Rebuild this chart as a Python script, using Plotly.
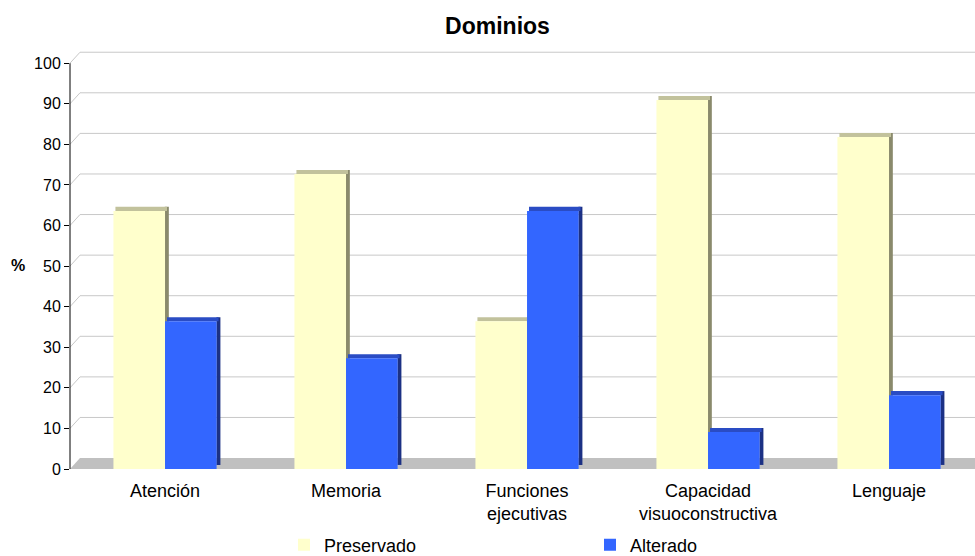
import plotly.graph_objects as go

categories = ["Atención", "Memoria", "Funciones<br>ejecutivas", "Capacidad<br>visuoconstructiva", "Lenguaje"]
preservado = [63.6, 72.7, 36.4, 90.9, 81.8]
alterado = [36.4, 27.3, 63.6, 9.1, 18.2]
y_ticks = [0, 10, 20, 30, 40, 50, 60, 70, 80, 90, 100]

series = [
    ("Preservado", preservado, "#ffffcc", "#c2c29c", "#8a8a6c", -0.285),
    ("Alterado", alterado, "#3366ff", "#2a4cc4", "#1c3184", 0.0),
]

W = 0.285      # bar width (category units)
DX = 0.022     # depth offset x (category units)
DY = 1.0       # depth offset y (data units)
xs = list(range(len(categories)))

fig = go.Figure()
for name, vals, front, top, side, off in series:
    fig.add_trace(go.Bar(x=xs, y=list(vals), base=DY, width=DX,
                         offset=off + W - 0.001, marker=dict(color=side, line=dict(width=0)),
                         showlegend=False, hoverinfo="skip"))
    fig.add_trace(go.Bar(x=xs, y=[DY] * len(vals), base=vals, width=W,
                         offset=off + DX / 2, marker=dict(color=top, line=dict(width=0)),
                         showlegend=False, hoverinfo="skip"))
    fig.add_trace(go.Bar(x=xs, y=vals, width=W, offset=off, name=name,
                         marker=dict(color=front, line=dict(width=0))))

shapes = []
GRID_SHIFT = 2.7
XD = 10 / 905
shapes.append(dict(type="path", xref="paper", yref="y",
                   path=f"M 0,0 L 1,0 L 1,{GRID_SHIFT} L {XD},{GRID_SHIFT} Z",
                   fillcolor="#c0c0c0", line=dict(width=0), layer="below"))
for k in y_ticks[1:]:
    shapes.append(dict(type="line", xref="paper", yref="y", x0=0, y0=k, x1=XD, y1=k + GRID_SHIFT,
                       line=dict(color="#c8c8c8", width=1), layer="below"))
    shapes.append(dict(type="line", xref="paper", yref="y", x0=XD, y0=k + GRID_SHIFT, x1=1, y1=k + GRID_SHIFT,
                       line=dict(color="#c8c8c8", width=1), layer="below"))
shapes.append(dict(type="line", xref="paper", yref="y", x0=0, y0=0, x1=0, y1=100,
                   line=dict(color="#000000", width=1), layer="above"))

fig.update_layout(
    width=975, height=556,
    margin=dict(l=70, r=0, t=51, b=87, autoexpand=False),
    paper_bgcolor="white", plot_bgcolor="white",
    barmode="overlay",
    font=dict(family="Liberation Sans, Arial, sans-serif", size=16, color="#000000"),
    title=dict(text="<b>Dominios</b>", xref="container", x=497.5 / 975, xanchor="center",
               y=0.953, yanchor="middle", font=dict(size=23)),
    xaxis=dict(tickmode="array", tickvals=xs, ticktext=categories, range=[-0.525, 4.475],
               showgrid=False, showline=False, zeroline=False, ticks="", fixedrange=True,
               automargin=False, tickfont=dict(size=18), ticklabelstandoff=9),
    yaxis=dict(range=[0, 103], tickmode="array", tickvals=y_ticks, showgrid=False, zeroline=False,
               showline=False, ticks="outside", ticklen=5, tickcolor="#000000", automargin=False),
    legend=dict(orientation="h", x=(284 - 70) / 905, xanchor="left", y=-(545 - 469) / 418,
                yanchor="middle", entrywidth=261, entrywidthmode="pixels", itemwidth=30,
                font=dict(size=18), bgcolor="rgba(0,0,0,0)"),
    annotations=[dict(text="<b>%</b>", xref="paper", yref="paper", x=-52 / 905, y=(469 - 265) / 418,
                      xanchor="center", yanchor="middle", showarrow=False, font=dict(size=16))],
    shapes=shapes,
    showlegend=True,
)

fig.write_html("out.html")
